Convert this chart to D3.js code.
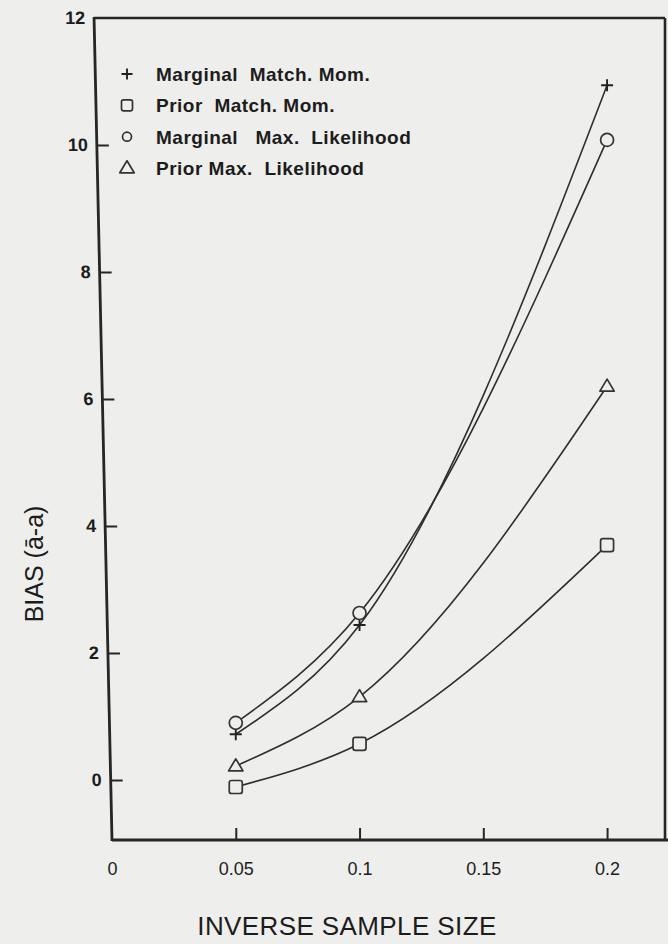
<!DOCTYPE html>
<html><head><meta charset="utf-8">
<script src="https://cdn.jsdelivr.net/npm/d3@7"></script>
<style>
html,body{margin:0;padding:0;background:#eeeeec;}
svg{display:block;}
text{font-family:"Liberation Sans",Arial,Helvetica,sans-serif;fill:#1c1c1c;}
</style>
</head><body>
<svg id="chart" width="668" height="944"></svg>
<script>
// ---- data ----
const xValues = [0.05, 0.1, 0.2];
const seriesNames = ["Marginal  Match. Mom.", "Prior  Match. Mom.", "Marginal   Max.  Likelihood", "Prior Max.  Likelihood"];
const seriesSymbols = ["plus", "square", "circle", "triangle"];
const marginalMatchMom = [0.72, 2.44, 10.94];
const priorMatchMom = [-0.11, 0.57, 3.70];
const marginalMaxLik = [0.90, 2.63, 10.08];
const priorMaxLik = [0.22, 1.31, 6.20];
const xTickValues = [0, 0.05, 0.1, 0.15, 0.2];
const xTickLabels = ["0", "0.05", "0.1", "0.15", "0.2"];
const yTickValues = [0, 2, 4, 6, 8, 10, 12];
const yTickLabels = ["0", "2", "4", "6", "8", "10", "12"];
const xTitle = "INVERSE SAMPLE SIZE";
const yTitle = "BIAS (\u0101-a)";

const seriesValues = [marginalMatchMom, priorMatchMom, marginalMaxLik, priorMaxLik];
const series = seriesNames.map((name, i) => ({
  name, symbol: seriesSymbols[i],
  points: xValues.map((xv, j) => ({x: xv, y: seriesValues[i][j]}))
}));

// ---- layout ----
const svg = d3.select("#chart");
const BG = "#eeeeec", INK = "#262626";
const x = d3.scaleLinear().domain([0, 0.2234]).range([112, 665]);
const y = d3.scaleLinear().domain([-0.945, 12]).range([840, 18]);
const x0 = x.range()[0], x1 = x.range()[1];
const yBot = y.range()[0], yTop = y.range()[1];
const skewDeg = 1.25; // scan tilt of the left axis
const skewShift = -Math.tan(skewDeg * Math.PI / 180) * (yBot - yTop);

// frame: top, right, bottom
svg.append("line").attr("x1", x0 + skewShift).attr("y1", yTop).attr("x2", x1).attr("y2", yTop)
  .attr("stroke", INK).attr("stroke-width", 2.6);
svg.append("line").attr("x1", x1).attr("y1", yTop).attr("x2", x1).attr("y2", yBot)
  .attr("stroke", INK).attr("stroke-width", 2.6);
svg.append("line").attr("x1", x0).attr("y1", yBot).attr("x2", 668).attr("y2", yBot)
  .attr("stroke", INK).attr("stroke-width", 2.8);

// x axis
const xAxis = d3.axisBottom(x).tickValues(xTickValues)
  .tickFormat((d, i) => xTickLabels[i]).tickSizeInner(-12).tickSizeOuter(0).tickPadding(22);
const gx = svg.append("g").attr("transform", `translate(0,${yBot})`).call(xAxis);
gx.select(".domain").remove();
gx.selectAll(".tick line").attr("stroke", INK).attr("stroke-width", 2)
  .attr("display", d => d === 0 ? "none" : null);
gx.selectAll(".tick text").attr("font-size", 18).attr("fill", "#1c1c1c");

// y axis (slightly tilted like the scanned original)
const gyWrap = svg.append("g")
  .attr("transform", `translate(${x0},${yBot}) skewX(${skewDeg}) translate(${-x0},${-yBot})`);
const yAxis = d3.axisLeft(y).tickValues(yTickValues)
  .tickFormat((d, i) => yTickLabels[i]).tickSizeInner(-12).tickSizeOuter(0).tickPadding(9);
const gy = gyWrap.append("g").attr("transform", `translate(${x0},0)`).call(yAxis);
gy.select(".domain").remove();
gy.selectAll(".tick line").attr("stroke", INK).attr("stroke-width", 2)
  .attr("display", d => d === 12 ? "none" : null);
gy.selectAll(".tick text").attr("font-size", 18).attr("font-weight", "bold").attr("fill", "#1c1c1c");
gyWrap.append("line").attr("x1", x0).attr("y1", yBot + 1).attr("x2", x0).attr("y2", yTop - 1)
  .attr("stroke", INK).attr("stroke-width", 2.8);

// curves
const line = d3.line().x(d => x(d.x)).y(d => y(d.y)).curve(d3.curveMonotoneX);
svg.append("g").selectAll("path").data(series).join("path")
  .attr("d", d => line(d.points)).attr("fill", "none")
  .attr("stroke", "#2e2e2e").attr("stroke-width", 1.6);

// markers
function drawSymbol(g, type, cx, cy, s) {
  if (type === "plus") {
    g.append("path").attr("d", `M${cx - s / 2},${cy}H${cx + s / 2}M${cx},${cy - s / 2}V${cy + s / 2}`)
      .attr("stroke", "#222").attr("stroke-width", 1.9).attr("fill", "none");
  } else if (type === "square") {
    g.append("rect").attr("x", cx - s / 2).attr("y", cy - s / 2).attr("width", s).attr("height", s)
      .attr("rx", s * 0.18).attr("fill", BG).attr("stroke", "#333").attr("stroke-width", 1.7);
  } else if (type === "circle") {
    g.append("circle").attr("cx", cx).attr("cy", cy).attr("r", s / 2)
      .attr("fill", BG).attr("stroke", "#333").attr("stroke-width", 1.7);
  } else {
    const w = s * 1.2, h = s;
    g.append("path").attr("d", `M${cx},${cy - h * 0.6}L${cx + w / 2},${cy + h * 0.4}L${cx - w / 2},${cy + h * 0.4}Z`)
      .attr("fill", BG).attr("stroke", "#333").attr("stroke-width", 1.7).attr("stroke-linejoin", "round");
  }
}
const gm = svg.append("g");
series.forEach(s => s.points.forEach(p => {
  drawSymbol(gm, s.symbol, x(p.x), y(p.y), s.symbol === "plus" ? 12 : (s.symbol === "triangle" ? 12 : 13));
}));

// legend
const legend = svg.append("g");
const legendY = d3.scalePoint().domain(seriesNames).range([74, 168]);
series.forEach(s => {
  const ly = legendY(s.name);
  const sz = s.symbol === "circle" ? 9 : (s.symbol === "triangle" ? 12 : 11);
  drawSymbol(legend, s.symbol, 127, ly, sz);
  legend.append("text").attr("x", 156).attr("y", ly).attr("dy", "0.36em")
    .attr("font-size", 19).attr("font-weight", "bold").attr("letter-spacing", 0.5)
    .style("white-space", "pre").attr("xml:space", "preserve").text(s.name);
});

// titles
svg.append("text").attr("x", 347).attr("y", 926).attr("dy", "0.36em")
  .attr("text-anchor", "middle").attr("font-size", 26).attr("letter-spacing", 0.4).text(xTitle);
svg.append("text").attr("transform", "translate(34,564) rotate(-90)").attr("dy", "0.36em")
  .attr("text-anchor", "middle").attr("font-size", 25).text(yTitle);
</script>
</body></html>
